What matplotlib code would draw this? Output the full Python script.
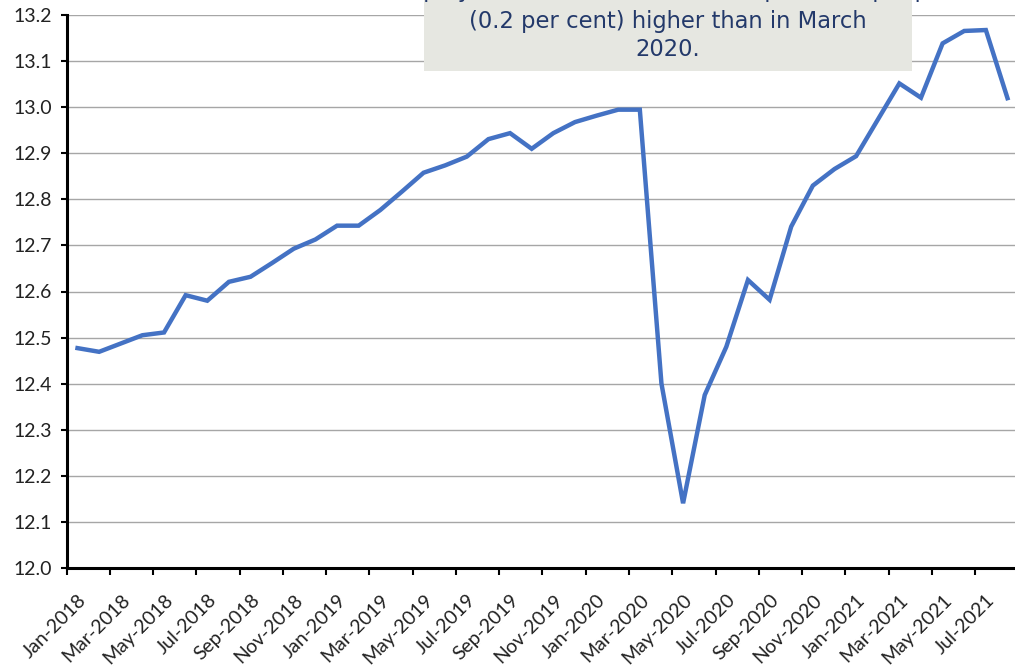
import matplotlib
matplotlib.use("Agg")
import matplotlib.pyplot as plt
import matplotlib.patches as patches
import matplotlib.transforms as mtransforms
import pandas as pd

#DATA
months = list(pd.date_range("2018-01-01", periods=44, freq="MS").strftime("%b-%Y"))
employed = [12.477, 12.469, 12.487, 12.505, 12.511, 12.592, 12.580, 12.621,
            12.632, 12.662, 12.693, 12.713, 12.743, 12.743, 12.777, 12.817,
            12.858, 12.874, 12.893, 12.931, 12.944, 12.910, 12.944, 12.968,
            12.982, 12.995, 12.995, 12.400, 12.140, 12.375, 12.480, 12.625,
            12.582, 12.741, 12.830, 12.866, 12.894, 12.973, 13.052, 13.021,
            13.139, 13.166, 13.168, 13.020]
tick_labels = months[::2]
y_ticks = [12.0, 12.1, 12.2, 12.3, 12.4, 12.5, 12.6, 12.7, 12.8, 12.9, 13.0, 13.1, 13.2]
note_lines = ["Employment was 13.02 million, up 22,000 people",
              "(0.2 per cent) higher than in March",
              "2020."]

W, H = 1015, 670
fig = plt.figure(figsize=(W / 100, H / 100), dpi=100)

# axes placed in pixels, right edge runs a bit past the picture
left, right, top, bottom = 66.7, 1018.3, 15.3, 567.7
ax = fig.add_axes([left / W, 1 - bottom / H, (right - left) / W, (bottom - top) / H])

x = list(range(len(employed)))
ax.plot(x, employed, color="#4472C4", linewidth=3.2, solid_joinstyle="miter", zorder=3)

ax.set_xlim(-0.5, len(employed) - 0.5)
ax.set_ylim(12.0, 13.2)
ax.set_yticks(y_ticks)
ax.set_yticklabels(["%.1f" % v for v in y_ticks])
ax.set_xticks([i - 0.5 for i in range(0, len(employed), 2)])
ax.set_xticklabels(tick_labels, rotation=45, ha="right", va="top", rotation_mode="anchor")

ax.grid(axis="y", color="#a6a6a6", linewidth=1.0)
ax.set_axisbelow(True)
for s in ["top", "right"]:
    ax.spines[s].set_visible(False)
for s in ["left", "bottom"]:
    ax.spines[s].set_linewidth(2.2)
    ax.spines[s].set_color("black")

ax.tick_params(axis="y", length=4.5, width=1.5, pad=6, labelsize=14, labelcolor="#222222")
ax.tick_params(axis="x", length=5, width=1.5, pad=4, labelsize=14, labelcolor="#222222")
for lab in ax.get_yticklabels():
    lab.set_fontfamily(["Lato", "DejaVu Sans"])
# x labels sit a bit lower and to the right of their ticks
shift = mtransforms.ScaledTranslation(11 / 100, -11 / 100, fig.dpi_scale_trans)
for lab in ax.get_xticklabels():
    lab.set_fontfamily(["Lato", "DejaVu Sans"])
    lab.set_transform(lab.get_transform() + shift)

#NOTE BOX (cut by top of the picture)
box = patches.Rectangle((424 / W, 1 - 71 / H), (912 - 424) / W, 80 / H,
                        transform=fig.transFigure, facecolor="#e6e7e1",
                        edgecolor="none", zorder=5)
fig.patches.append(box)
cx = 668 / W
for i, txt in enumerate(note_lines):
    fig.text(cx, 1 - (-2.5 + 27.7 * i + (3.1 if i > 0 else 0)) / H, txt, ha="center",
             va="baseline", fontsize=16.3, color="#23396a", family="DejaVu Sans", zorder=6)

fig.savefig("out.png", dpi=100)
